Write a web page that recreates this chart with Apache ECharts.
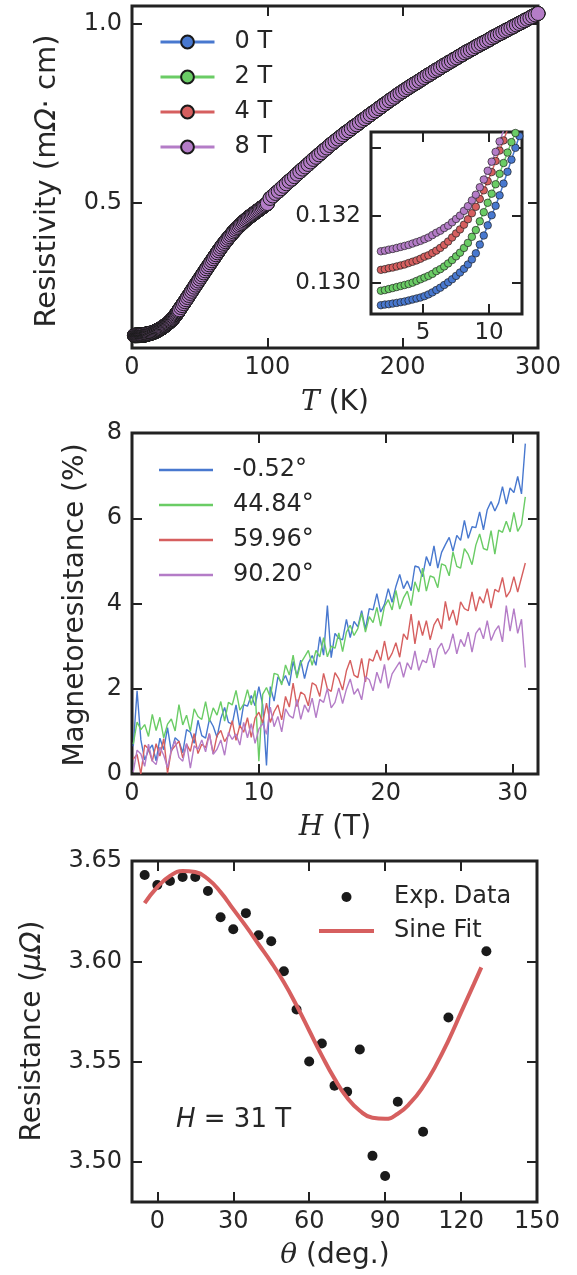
<!DOCTYPE html>
<html>
<head>
<meta charset="utf-8">
<script src="https://cdn.jsdelivr.net/npm/echarts@6/dist/echarts.min.js"></script>
<style>
  html, body { margin: 0; padding: 0; background: #fff; }
  #chart { width: 577px; height: 1275px; }
</style>
</head>
<body>
<div id="chart"></div>
<script>
// panel 1 : resistivity vs temperature (4 fields)
const fieldNames = ['0 T', '2 T', '4 T', '8 T'];
const fieldColors = ['#4878CF', '#6ACC65', '#D65F5F', '#B47CC7'];

// low temperature part (also shown in the inset)
const insetT = [1.8, 2.1, 2.4, 2.7, 3.0, 3.3, 3.6, 3.9, 4.2, 4.5, 4.8, 5.1, 5.4, 5.7, 6.0, 6.3, 6.6, 6.9,
  7.2, 7.5, 7.8, 8.1, 8.4, 8.7, 9.0, 9.3, 9.6, 9.9, 10.2, 10.5, 10.8, 11.1, 11.4, 11.7, 12.0, 12.3];
const rho0T = [0.12934, 0.12936, 0.12937, 0.12939, 0.12941, 0.12943, 0.12945, 0.12948, 0.12951, 0.12954,
  0.12957, 0.12961, 0.12966, 0.12972, 0.12979, 0.12986, 0.12994, 0.13002, 0.13011, 0.13021, 0.13031,
  0.13042, 0.13055, 0.13070, 0.13088, 0.13114, 0.13141, 0.13171, 0.13201, 0.13229, 0.13260, 0.13295,
  0.13330, 0.13366, 0.13401, 0.13436];
const rho2T = [0.12977, 0.12979, 0.12982, 0.12985, 0.12988, 0.12991, 0.12994, 0.12997, 0.13001, 0.13006,
  0.13011, 0.13016, 0.13021, 0.13027, 0.13035, 0.13041, 0.13049, 0.13058, 0.13068, 0.13079, 0.13090,
  0.13104, 0.13119, 0.13137, 0.13157, 0.13183, 0.13210, 0.13238, 0.13265, 0.13293, 0.13324, 0.13356,
  0.13387, 0.13418, 0.13445, 0.13475];
const rho4T = [0.13039, 0.13041, 0.13044, 0.13046, 0.13049, 0.13052, 0.13055, 0.13059, 0.13063, 0.13067,
  0.13072, 0.13078, 0.13082, 0.13089, 0.13096, 0.13104, 0.13113, 0.13123, 0.13135, 0.13147, 0.13159,
  0.13173, 0.13189, 0.13207, 0.13226, 0.13249, 0.13275, 0.13302, 0.13329, 0.13362, 0.13393, 0.13423,
  0.13455, 0.13487, 0.13520, 0.13550];
const rho8T = [0.13094, 0.13096, 0.13099, 0.13101, 0.13104, 0.13107, 0.13110, 0.13113, 0.13117, 0.13121,
  0.13125, 0.13130, 0.13135, 0.13142, 0.13149, 0.13155, 0.13163, 0.13170, 0.13180, 0.13190, 0.13200,
  0.13214, 0.13228, 0.13245, 0.13262, 0.13284, 0.13307, 0.13333, 0.13360, 0.13389, 0.13420, 0.13452,
  0.13485, 0.13518, 0.13550, 0.13585];

// higher temperatures, the four curves lie on top of each other here
const highT = [12.5, 13, 13.5, 14, 14.5, 15, 15.5, 16, 16.5, 17, 17.5, 18, 18.5, 19, 19.5, 20, 20.5, 21,
  21.5, 22, 22.5, 23, 23.5, 24, 24.5, 25, 25.5, 26, 26.5, 27, 27.5, 28, 28.5, 29, 29.5, 30, 30.5, 31,
  31.5, 32, 32.5, 33, 33.5, 34, 34.5, 35,
  36, 37, 38, 39, 40, 41, 42, 43, 44, 45, 46, 47, 48, 49, 50, 51, 52, 53, 54, 55, 56, 57, 58, 59, 60,
  61, 62, 63, 64, 65, 66, 67, 68, 69, 70, 71, 72, 73, 74, 75, 76, 77, 78, 79, 80, 81, 82, 83, 84, 85,
  86, 87, 88, 89, 90, 91, 92, 93, 94, 95, 96, 97, 98, 99, 100,
  102, 104, 106, 108, 110, 112, 114, 116, 118, 120, 122, 124, 126, 128, 130, 132, 134, 136, 138, 140,
  142, 144, 146, 148, 150, 152, 154, 156, 158, 160, 162, 164, 166, 168, 170, 172, 174, 176, 178, 180,
  182, 184, 186, 188, 190, 192, 194, 196, 198, 200, 202, 204, 206, 208, 210, 212, 214, 216, 218, 220,
  222, 224, 226, 228, 230, 232, 234, 236, 238, 240, 242, 244, 246, 248, 250, 252, 254, 256, 258, 260,
  262, 264, 266, 268, 270, 272, 274, 276, 278, 280, 282, 284, 286, 288, 290, 292, 294, 296, 298, 300];
const highRho = [0.1349, 0.1353, 0.1358, 0.1364, 0.1370, 0.1376, 0.1383, 0.1390, 0.1398, 0.1406, 0.1415,
  0.1424, 0.1434, 0.1444, 0.1454, 0.1465, 0.1476, 0.1487, 0.1499, 0.1511, 0.1524, 0.1537, 0.1550, 0.1564,
  0.1578, 0.1593, 0.1608, 0.1623, 0.1639, 0.1655, 0.1672, 0.1689, 0.1706, 0.1724, 0.1742, 0.1760, 0.1784,
  0.1808, 0.1833, 0.1858, 0.1884, 0.1910, 0.1937, 0.1964, 0.1992, 0.2020,
  0.208, 0.2135, 0.219, 0.2245, 0.230, 0.236, 0.2418, 0.2476, 0.2534, 0.2592, 0.265, 0.2707, 0.2764,
  0.2821, 0.2878, 0.2935, 0.2992, 0.3049, 0.3106, 0.3163, 0.3219, 0.3275, 0.3331, 0.3387, 0.3443, 0.3499,
  0.3555, 0.361, 0.3665, 0.372, 0.3772, 0.3823, 0.3873, 0.3922, 0.397, 0.4017, 0.4063, 0.4108, 0.4152,
  0.4195, 0.4237, 0.4277, 0.4316, 0.4354, 0.4391, 0.4427, 0.4462, 0.4496, 0.4529, 0.4561, 0.4592, 0.4622,
  0.4651, 0.468, 0.4708, 0.4736, 0.4764, 0.4792, 0.482, 0.4848, 0.4876, 0.4904, 0.4932, 0.496, 0.4988,
  0.513, 0.520, 0.527, 0.533, 0.540, 0.547, 0.554, 0.561, 0.567, 0.574,
  0.581, 0.588, 0.595, 0.601, 0.608, 0.615, 0.622, 0.628, 0.635, 0.641,
  0.648, 0.654, 0.661, 0.667, 0.673, 0.679, 0.685, 0.691, 0.697, 0.702,
  0.708, 0.714, 0.719, 0.725, 0.731, 0.736, 0.742, 0.747, 0.753, 0.758,
  0.764, 0.769, 0.775, 0.780, 0.786, 0.791, 0.796, 0.802, 0.807, 0.812,
  0.817, 0.822, 0.827, 0.832, 0.836, 0.841, 0.846, 0.851, 0.856, 0.860,
  0.865, 0.870, 0.874, 0.879, 0.884, 0.888, 0.893, 0.897, 0.902, 0.906,
  0.911, 0.915, 0.920, 0.924, 0.928, 0.932, 0.937, 0.941, 0.945, 0.949,
  0.953, 0.957, 0.962, 0.966, 0.970, 0.974, 0.978, 0.982, 0.986, 0.990,
  0.994, 0.998, 1.002, 1.006, 1.010, 1.014, 1.018, 1.022, 1.026, 1.030];

const tTicks = [0, 100, 200, 300];
const rhoTicks = [0.5, 1.0];
const insetTTicks = [5, 10];
const insetRhoTicks = [0.130, 0.132, 0.134];
const insetRhoLabels = [0.130, 0.132];

// panel 2 : magnetoresistance vs field
const angleNames = ['-0.52°', '44.84°', '59.96°', '90.20°'];
const fieldH = [0.1, 0.4, 0.7, 1.0, 1.3, 1.6, 1.9, 2.2, 2.5, 2.8, 3.1, 3.4, 3.7, 4.0, 4.3, 4.6, 4.9, 5.2,
  5.5, 5.8, 6.1, 6.4, 6.7, 7.0, 7.3, 7.6, 7.9, 8.2, 8.5, 8.8, 9.1, 9.4, 9.7, 10.0, 10.3, 10.6, 10.9, 11.2,
  11.5, 11.8, 12.1, 12.4, 12.7, 13.0, 13.3, 13.6, 13.9, 14.2, 14.5, 14.8, 15.1, 15.4, 15.7, 16.0, 16.3,
  16.6, 16.9, 17.2, 17.5, 17.8, 18.1, 18.4, 18.7, 19.0, 19.3, 19.6, 19.9, 20.2, 20.5, 20.8, 21.1, 21.4,
  21.7, 22.0, 22.3, 22.6, 22.9, 23.2, 23.5, 23.8, 24.1, 24.4, 24.7, 25.0, 25.3, 25.6, 25.9, 26.2, 26.5,
  26.8, 27.1, 27.4, 27.7, 28.0, 28.3, 28.6, 28.9, 29.2, 29.5, 29.8, 30.1, 30.4, 30.7, 31.0];
const mrA = [0.65, 1.95, 0.80, 0.33, 0.56, 0.68, 0.31, 0.84, 0.57, 1.09,
  0.52, 0.85, 0.77, 0.50, 1.04, 0.98, 0.72, 1.26, 0.90, 0.84,
  1.28, 1.12, 0.86, 1.30, 1.56, 1.21, 1.17, 1.62, 1.08, 1.63,
  1.59, 1.84, 1.60, 2.05, 1.62, 0.20, 2.05, 1.71, 2.28, 2.14,
  2.31, 2.07, 2.64, 2.30, 2.67, 2.24, 2.61, 2.78, 2.55, 3.22,
  2.79, 3.95, 2.73, 3.30, 3.18, 3.15, 3.63, 3.20, 3.58, 3.45,
  3.83, 3.40, 3.88, 3.85, 4.23, 3.80, 3.98, 4.35, 4.03, 4.40,
  4.68, 4.35, 4.53, 4.30, 4.88, 4.85, 4.63, 5.10, 4.88, 5.35,
  4.83, 5.20, 5.38, 5.55, 5.23, 5.60, 5.48, 5.95, 5.53, 5.80,
  5.78, 6.15, 5.73, 6.20, 6.39, 6.17, 6.36, 6.74, 6.33, 6.71,
  6.60, 6.98, 6.57, 7.75];
const mrB = [0.70, 1.22, 1.04, 1.16, 0.88, 1.40, 1.02, 1.33, 0.85, 1.17,
  1.29, 1.01, 1.63, 1.15, 1.38, 1.00, 1.53, 1.35, 1.28, 1.70,
  1.23, 1.55, 1.38, 1.70, 1.24, 1.68, 1.62, 1.96, 1.50, 1.64,
  1.98, 1.62, 1.96, 0.30, 1.87, 2.03, 1.80, 2.36, 2.33, 2.09,
  2.56, 2.32, 2.79, 2.25, 2.60, 2.75, 2.90, 2.55, 2.90, 2.75,
  3.20, 2.75, 3.00, 2.95, 3.31, 2.87, 3.33, 3.49, 3.25, 3.41,
  3.77, 3.33, 3.69, 3.55, 3.91, 3.47, 3.93, 4.09, 3.85, 4.31,
  3.87, 4.13, 4.29, 3.95, 4.51, 4.27, 4.83, 4.29, 4.65, 4.61,
  4.37, 4.93, 4.89, 4.65, 5.21, 4.87, 4.83, 5.29, 5.15, 4.91,
  5.37, 5.63, 5.29, 5.25, 5.71, 5.16, 5.72, 5.67, 5.93, 5.68,
  6.14, 5.69, 5.85, 6.50];
const mrC = [0.35, 0.46, 0.00, 0.68, 0.59, 0.30, 0.71, 0.42, 0.83, 0.02,
  0.55, 0.66, 0.77, 0.38, 0.70, 0.53, 0.95, 0.48, 0.70, 0.62,
  0.95, 0.47, 0.90, 1.02, 0.76, 0.91, 1.25, 0.79, 1.14, 0.98,
  1.32, 0.86, 1.31, 1.45, 1.20, 1.66, 1.21, 1.46, 1.62, 1.27,
  1.82, 1.57, 2.13, 1.58, 1.92, 1.86, 1.60, 2.14, 2.08, 1.82,
  2.36, 2.00, 1.94, 2.38, 2.23, 1.97, 2.42, 2.67, 2.32, 2.26,
  2.71, 2.16, 2.70, 2.65, 2.91, 2.66, 3.12, 2.67, 2.83, 3.08,
  2.74, 3.29, 3.15, 3.75, 3.05, 3.60, 3.25, 3.60, 3.15, 3.50,
  3.65, 3.40, 4.05, 3.60, 3.85, 3.49, 4.04, 3.88, 3.83, 4.27,
  3.82, 4.16, 4.01, 4.35, 3.89, 4.33, 4.27, 4.61, 4.15, 4.29,
  4.63, 4.27, 4.61, 4.95];
const mrD = [0.05, 0.56, 0.47, 0.18, 0.70, 0.31, 0.22, 0.63, 0.44, 0.15,
  0.57, 0.78, 0.39, 0.30, 0.72, 0.14, 0.66, 0.58, 0.80, 0.52,
  0.94, 0.46, 0.58, 0.80, 0.44, 0.97, 0.81, 0.94, 0.68, 1.21,
  0.85, 1.18, 0.72, 1.05, 1.19, 0.93, 1.57, 1.11, 1.35, 0.99,
  1.53, 1.37, 1.31, 1.75, 1.28, 1.62, 1.45, 1.78, 1.32, 1.75,
  1.68, 2.01, 1.55, 1.68, 2.02, 1.65, 1.99, 2.23, 1.87, 2.00,
  1.74, 2.28, 2.21, 1.95, 2.39, 2.13, 2.57, 2.01, 2.35, 2.49,
  2.63, 2.27, 2.61, 2.45, 2.89, 2.43, 2.67, 2.61, 2.95, 2.49,
  2.93, 3.07, 2.81, 2.95, 3.29, 2.82, 3.16, 2.99, 3.33, 2.86,
  3.30, 3.43, 3.17, 3.60, 3.13, 3.35, 3.48, 3.10, 3.95, 3.35,
  3.88, 3.30, 3.63, 2.50];
const hTicks = [0, 10, 20, 30];
const mrTicks = [0, 2, 4, 6, 8];

// panel 3 : resistance vs angle at 31 T
const theta = [-5, 0, 5, 10, 15, 20, 25, 30, 35, 40, 45, 50, 55, 60, 65, 70, 75, 80, 85, 90, 95, 105, 115, 130];
const resist = [3.643, 3.638, 3.640, 3.642, 3.642, 3.635, 3.622, 3.616, 3.624, 3.613, 3.610, 3.595, 3.576,
  3.550, 3.559, 3.538, 3.535, 3.556, 3.503, 3.493, 3.530, 3.515, 3.572, 3.605];
const fitTheta = [-5, 0, 5, 10, 15, 20, 25, 30, 35, 40, 45, 50, 55, 60, 65, 70, 75, 80, 85, 90, 95, 100,
  105, 110, 115, 120, 125, 128];
const fitR = [3.629, 3.637, 3.6425, 3.645, 3.6445, 3.641, 3.6345, 3.626, 3.6175, 3.6085, 3.5995, 3.5895,
  3.578, 3.5655, 3.553, 3.5415, 3.532, 3.5255, 3.522, 3.5215, 3.524, 3.5295, 3.5375, 3.548, 3.5605,
  3.5745, 3.5885, 3.597];
const thetaTicks = [0, 30, 60, 90, 120, 150];
const resTicks = [3.50, 3.55, 3.60, 3.65];

const FONT = 'DejaVu Sans';
const INK = '#262626';
const FRAME = '#222222';

function pairs(xs, ys) {
  return xs.map((x, i) => [x, ys[i]]);
}

function makeAxis(gridIndex, position, min, max, ticks, labels, fmt, fontSize) {
  const showLabel = position === 'bottom' || position === 'left';
  return {
    type: 'value',
    gridIndex: gridIndex,
    position: position,
    min: min,
    max: max,
    axisLine: { show: false, onZero: false },
    splitLine: { show: false },
    axisTick: {
      show: true,
      inside: true,
      length: 10,
      customValues: ticks,
      lineStyle: { color: FRAME, width: 2 }
    },
    axisLabel: {
      show: showLabel,
      customValues: labels || ticks,
      formatter: fmt,
      fontSize: fontSize || 24,
      fontFamily: FONT,
      color: INK,
      margin: position === 'bottom' ? 8 : 10
    }
  };
}

const grids = [
  { left: 132, top: 6, width: 406, height: 342 },
  { left: 371, top: 132, width: 151, height: 182 },
  { left: 132, top: 433, width: 406, height: 341 },
  { left: 132, top: 861, width: 405, height: 341 }
].map((g) => Object.assign({ show: true, borderColor: FRAME, borderWidth: 3, backgroundColor: '#fff' }, g));

const fmt1 = (v) => v.toFixed(1);
const fmt3 = (v) => v.toFixed(3);
const fmt2 = (v) => v.toFixed(2);
const fmt0 = (v) => String(Math.round(v));

const xAxes = [
  makeAxis(0, 'bottom', 0, 300, tTicks, null, fmt0),
  makeAxis(0, 'top', 0, 300, tTicks, null, fmt0),
  makeAxis(1, 'bottom', 1.05, 12.5, insetTTicks, null, fmt0, 23),
  makeAxis(1, 'top', 1.05, 12.5, insetTTicks, null, fmt0, 23),
  makeAxis(2, 'bottom', 0, 32, hTicks, null, fmt0),
  makeAxis(2, 'top', 0, 32, hTicks, null, fmt0),
  makeAxis(3, 'bottom', -10, 150, thetaTicks, null, fmt0),
  makeAxis(3, 'top', -10, 150, thetaTicks, null, fmt0)
];
const yAxes = [
  makeAxis(0, 'left', 0.095, 1.051, rhoTicks, null, fmt1),
  makeAxis(0, 'right', 0.095, 1.051, rhoTicks, null, fmt1),
  makeAxis(1, 'left', 0.12908, 0.13448, insetRhoTicks, insetRhoLabels, fmt3, 23),
  makeAxis(1, 'right', 0.12908, 0.13448, insetRhoTicks, insetRhoLabels, fmt3, 23),
  makeAxis(2, 'left', 0, 8, mrTicks, null, fmt0),
  makeAxis(2, 'right', 0, 8, mrTicks, null, fmt0),
  makeAxis(3, 'left', 3.48, 3.65, resTicks, null, fmt2),
  makeAxis(3, 'right', 3.48, 3.65, resTicks, null, fmt2)
];

const lowRho = [rho0T, rho2T, rho4T, rho8T];
const series = [];

// main panel
fieldNames.forEach((name, k) => {
  series.push({
    type: 'line',
    name: name,
    xAxisIndex: 0,
    yAxisIndex: 0,
    data: pairs(insetT, lowRho[k]).concat(pairs(highT, highRho)),
    symbol: 'circle',
    symbolSize: 14,
    lineStyle: { width: 3, color: fieldColors[k] },
    itemStyle: { color: fieldColors[k], borderColor: '#1a1a1a', borderWidth: 1 },
    clip: true
  });
});
// inset
fieldNames.forEach((name, k) => {
  series.push({
    type: 'line',
    name: name,
    xAxisIndex: 2,
    yAxisIndex: 2,
    data: pairs(insetT, lowRho[k]),
    symbol: 'circle',
    symbolSize: 7.5,
    lineStyle: { width: 1.5, color: fieldColors[k] },
    itemStyle: { color: fieldColors[k], borderColor: FRAME, borderWidth: 0.7 },
    clip: true
  });
});
// magnetoresistance
[mrA, mrB, mrC, mrD].forEach((vals, k) => {
  series.push({
    type: 'line',
    name: angleNames[k],
    xAxisIndex: 4,
    yAxisIndex: 4,
    data: pairs(fieldH, vals),
    symbol: 'none',
    lineStyle: { width: 1.4, color: fieldColors[k] },
    itemStyle: { color: fieldColors[k] },
    clip: true
  });
});
// angle dependence
series.push({
  type: 'line',
  name: 'Sine Fit',
  xAxisIndex: 6,
  yAxisIndex: 6,
  data: pairs(fitTheta, fitR),
  symbol: 'none',
  smooth: true,
  lineStyle: { width: 4, color: '#D65F5F' },
  itemStyle: { color: '#D65F5F' }
});
series.push({
  type: 'scatter',
  name: 'Exp. Data',
  xAxisIndex: 6,
  yAxisIndex: 6,
  data: pairs(theta, resist),
  symbol: 'circle',
  symbolSize: 10,
  itemStyle: { color: '#1a1a1a', opacity: 1 }
});

const legendText = { fontSize: 24, fontFamily: FONT, color: INK, padding: [0, 0, 0, 15] };
const legends = [
  {
    data: fieldNames, left: 154, top: 25, orient: 'vertical',
    itemWidth: 54, itemHeight: 16, itemGap: 11, textStyle: legendText, selectedMode: false,
    lineStyle: { width: 3 }
  },
  {
    data: angleNames.map((n) => ({ name: n, icon: 'path://M0,0H54V2.5H0Z' })),
    left: 154, top: 453, orient: 'vertical',
    itemWidth: 54, itemHeight: 16, itemGap: 11, textStyle: legendText, selectedMode: false
  },
  {
    data: [{ name: 'Exp. Data', icon: 'circle' }, { name: 'Sine Fit', icon: 'path://M0,0H55V4H0Z' }],
    left: 314, top: 880, orient: 'vertical',
    itemWidth: 55, itemHeight: 10, itemGap: 10, textStyle: legendText, selectedMode: false
  }
];

const italicSerif = { fontStyle: 'italic', fontFamily: 'DejaVu Serif', fontSize: 28, fill: INK };
const italicSans = { fontStyle: 'italic', fontFamily: FONT, fontSize: 28, fill: INK };
function title(x, y, text, rotate, size) {
  return {
    type: 'text',
    x: x,
    y: y,
    rotation: rotate ? Math.PI / 2 : 0,
    style: {
      text: text,
      fontSize: size || 28,
      fontFamily: FONT,
      fill: INK,
      align: 'center',
      verticalAlign: 'middle',
      rich: {
        s: Object.assign({}, italicSerif, { fontSize: size || 28 }),
        o: Object.assign({}, italicSans, { fontSize: size || 28 }),
        n: { fontFamily: FONT, fontSize: size || 28, fill: INK }
      }
    },
    z: 10
  };
}

const chart = echarts.init(document.getElementById('chart'), null, { renderer: 'canvas' });
chart.setOption({
  animation: false,
  backgroundColor: '#fff',
  grid: grids,
  xAxis: xAxes,
  yAxis: yAxes,
  legend: legends,
  series: series,
  graphic: [
    title(47, 181, '{n|Resistivity (m}{o|Ω}{n|· cm)}', true, 29),
    title(335, 403, '{s|T}{n| (K)}', false),
    title(76, 605, '{n|Magnetoresistance (%)}', true),
    title(335, 828, '{s|H}{n| (T)}', false),
    title(33, 1031, '{n|Resistance (}{o|μΩ}{n|)}', true),
    title(335, 1256, '{s|θ}{n| (deg.)}', false),
    {
      type: 'text', x: 176, y: 1120, z: 10,
      style: {
        text: '{o|H}{n| = 31 T}', fontSize: 26, fontFamily: FONT, fill: INK,
        align: 'left', verticalAlign: 'middle',
        rich: {
          o: { fontStyle: 'italic', fontFamily: FONT, fontSize: 26, fill: INK },
          n: { fontFamily: FONT, fontSize: 26, fill: INK }
        }
      }
    }
  ]
});
</script>
</body>
</html>
